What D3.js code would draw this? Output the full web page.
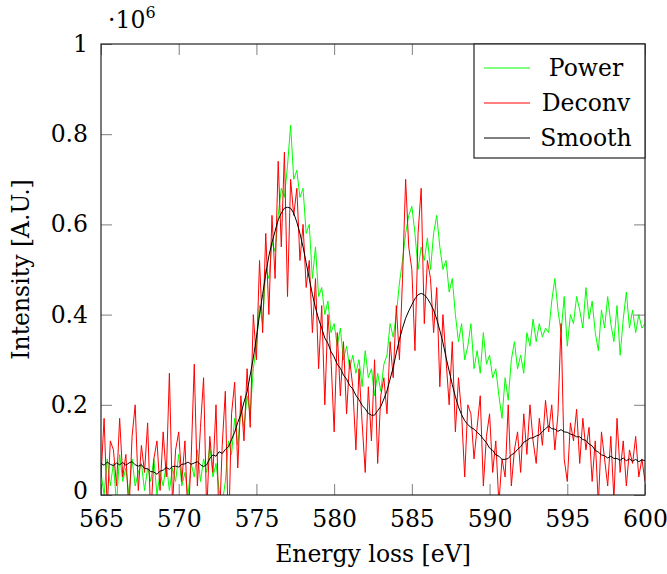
<!DOCTYPE html>
<html>
<head>
<meta charset="utf-8">
<script src="https://cdn.jsdelivr.net/npm/d3@7"></script>
<style>
  html, body { margin: 0; padding: 0; background: #fff; }
  svg { display: block; }
  svg text { font-family: "DejaVu Serif", "Liberation Serif", serif !important; fill: #000; }
</style>
</head>
<body>
<svg id="chart" width="667" height="574"></svg>
<script>
// Energy grid: starts at 565 eV, step 0.2 eV
const xStart = 565;
const xStep = 0.2;

// Values in units of 10^6
const powerValues = [
  0.05,0.00,0.08,0.02,0.07,-0.02,0.09,0.03,0.06,0.00,
  0.08,0.02,0.05,0.07,0.01,0.06,0.03,0.08,0.00,0.05,
  0.02,0.07,0.01,0.06,0.03,0.09,0.02,0.05,0.00,0.07,
  0.04,0.10,0.03,0.08,0.05,0.11,0.04,0.07,0.01,-0.02,
  0.03,0.12,0.09,0.17,0.11,0.19,0.15,0.22,0.18,0.28,
  0.33,0.42,0.38,0.50,0.48,0.56,0.54,0.62,0.68,0.66,
  0.73,0.82,0.70,0.72,0.66,0.68,0.58,0.60,0.48,0.55,
  0.44,0.46,0.40,0.43,0.36,0.38,0.33,0.37,0.30,0.33,
  0.28,0.31,0.27,0.30,0.24,0.32,0.26,0.28,0.22,0.27,
  0.23,0.29,0.31,0.38,0.35,0.40,0.47,0.52,0.58,0.62,
  0.64,0.58,0.50,0.55,0.52,0.57,0.50,0.58,0.62,0.55,
  0.50,0.52,0.45,0.48,0.40,0.34,0.38,0.30,0.33,0.38,
  0.28,0.32,0.27,0.36,0.29,0.31,0.26,0.28,0.22,0.17,
  0.26,0.21,0.30,0.34,0.28,0.31,0.27,0.36,0.33,0.39,
  0.34,0.38,0.35,0.37,0.36,0.43,0.48,0.41,0.36,0.44,
  0.33,0.40,0.38,0.44,0.41,0.37,0.46,0.39,0.43,0.36,
  0.32,0.41,0.37,0.44,0.38,0.34,0.42,0.31,0.39,0.45,
  0.37,0.41,0.36,0.40,0.37,0.38
];

const deconvValues = [
  0.04,0.17,-0.03,0.12,0.10,0.02,0.17,0.04,0.09,-0.04,
  0.13,0.20,0.01,0.11,0.05,0.16,-0.05,0.08,0.12,0.01,
  0.14,0.04,0.27,-0.02,0.10,0.14,0.03,0.12,-0.06,0.08,
  0.29,0.02,0.15,0.26,-0.04,0.13,0.05,0.20,-0.08,0.11,
  0.23,-0.10,0.18,0.25,0.06,0.22,0.12,0.28,0.15,0.40,
  0.30,0.52,0.36,0.58,0.40,0.62,0.48,0.74,0.55,0.76,
  0.44,0.70,0.62,0.68,0.52,0.60,0.46,0.52,0.36,0.48,
  0.28,0.42,0.20,0.40,0.30,0.14,0.36,0.22,0.34,0.18,
  0.30,0.24,0.10,0.28,0.16,0.05,0.24,0.12,0.30,0.07,
  0.22,0.26,0.18,0.34,0.26,0.42,0.30,0.48,0.70,0.55,
  0.50,0.32,0.58,0.68,0.38,0.52,0.48,0.36,0.46,0.24,
  0.40,0.30,0.20,0.34,0.14,0.26,0.18,0.04,0.20,0.18,
  0.08,0.15,0.22,0.02,0.13,0.18,0.05,0.12,-0.02,0.08,
  0.04,0.20,0.02,0.10,0.14,0.05,0.18,0.09,0.20,0.12,
  0.07,0.17,0.11,0.21,0.14,0.20,0.10,0.18,0.38,0.08,
  0.03,0.16,0.12,0.19,0.07,0.17,0.10,0.15,0.03,0.12,
  -0.02,0.14,0.08,0.02,0.13,-0.01,0.17,0.05,0.12,0.02,
  0.10,0.07,0.13,0.04,0.08,0.03
];

const smoothValues = [
  0.070,0.066,0.073,0.068,0.065,0.071,0.067,0.072,0.066,0.071,
  0.074,0.067,0.064,0.067,0.059,0.058,0.052,0.051,0.046,0.053,
  0.055,0.061,0.057,0.063,0.064,0.062,0.068,0.069,0.073,0.068,
  0.071,0.074,0.067,0.063,0.067,0.081,0.089,0.086,0.096,0.092,
  0.101,0.107,0.123,0.139,0.161,0.179,0.206,0.229,0.266,0.304,
  0.350,0.400,0.445,0.490,0.530,0.560,0.585,0.610,0.625,0.636,
  0.638,0.636,0.625,0.605,0.580,0.550,0.515,0.480,0.445,0.415,
  0.390,0.370,0.348,0.336,0.318,0.306,0.290,0.281,0.266,0.257,
  0.243,0.235,0.221,0.211,0.199,0.191,0.181,0.177,0.177,0.187,
  0.196,0.213,0.231,0.257,0.283,0.315,0.345,0.370,0.392,0.408,
  0.422,0.435,0.444,0.447,0.444,0.436,0.424,0.410,0.390,0.365,
  0.338,0.305,0.275,0.245,0.218,0.195,0.178,0.165,0.156,0.150,
  0.146,0.139,0.133,0.124,0.116,0.104,0.099,0.089,0.086,0.079,
  0.079,0.081,0.089,0.093,0.101,0.107,0.117,0.121,0.126,0.127,
  0.131,0.133,0.141,0.147,0.153,0.147,0.146,0.141,0.145,0.140,
  0.139,0.135,0.133,0.129,0.129,0.123,0.121,0.113,0.109,0.099,
  0.095,0.089,0.087,0.082,0.086,0.081,0.081,0.077,0.082,0.076,
  0.080,0.075,0.079,0.074,0.078,0.076
];

const seriesNames = ["Power", "Deconv", "Smooth"];
const seriesColors = ["#00ff00", "#ff0000", "#000000"];
const xTicks = [565, 570, 575, 580, 585, 590, 595, 600];
const yTicks = [0, 0.2, 0.4, 0.6, 0.8, 1];
const yTickLabels = ["0", "0.2", "0.4", "0.6", "0.8", "1"];

const FONT = "'DejaVu Serif', 'Liberation Serif', serif";
const FS = 23.5;
const svg = d3.select("#chart");
const L = 101, R = 645, T = 44, B = 495;
const x = d3.scaleLinear().domain([565, 600]).range([L, R]);
const y = d3.scaleLinear().domain([0, 1]).range([B, T]);

const allSeries = [powerValues, deconvValues, smoothValues].map(vals =>
  vals.map((v, i) => ({ e: xStart + i * xStep, v })));

svg.append("defs").append("clipPath").attr("id", "clip")
  .append("rect").attr("x", L).attr("y", T).attr("width", R - L).attr("height", B - T);

const line = d3.line().x(d => x(d.e)).y(d => y(d.v));
const g = svg.append("g").attr("clip-path", "url(#clip)");
allSeries.forEach((s, k) => {
  g.append("path").datum(s).attr("d", line)
    .attr("fill", "none").attr("stroke", seriesColors[k])
    .attr("stroke-width", 1).attr("stroke-linejoin", "round");
});

// ticks (inward on all four sides)
const tickLen = 11;
const tickColor = "#7f7f7f";
const axB = svg.append("g").attr("transform", `translate(0,${B})`)
  .call(d3.axisBottom(x).tickValues(xTicks).tickSize(-tickLen).tickPadding(15).tickFormat(d3.format("d")));
const axT = svg.append("g").attr("transform", `translate(0,${T})`)
  .call(d3.axisTop(x).tickValues(xTicks).tickSize(-tickLen).tickFormat(""));
const axL = svg.append("g").attr("transform", `translate(${L},0)`)
  .call(d3.axisLeft(y).tickValues(yTicks).tickSize(-tickLen).tickPadding(13).tickFormat((d, i) => yTickLabels[i]));
const axR = svg.append("g").attr("transform", `translate(${R},0)`)
  .call(d3.axisRight(y).tickValues(yTicks).tickSize(-tickLen).tickFormat(""));
[axB, axT, axL, axR].forEach(a => {
  a.attr("font-family", FONT).attr("font-size", FS);
  a.select(".domain").remove();
  a.selectAll(".tick line").attr("stroke", tickColor).attr("stroke-width", 1);
  a.selectAll(".tick text").attr("fill", "#000");
});
// nudge the zero label up so it clears the x tick labels
axL.selectAll(".tick text").filter(d => d === 0).attr("y", -4);

// frame
svg.append("rect").attr("x", L).attr("y", T).attr("width", R - L).attr("height", B - T)
  .attr("fill", "none").attr("stroke", "#222").attr("stroke-width", 1.2);

// axis labels
svg.append("text").attr("x", (L + R) / 2).attr("y", 562).attr("text-anchor", "middle")
  .attr("font-family", FONT).attr("font-size", FS).text("Energy loss [eV]");
svg.append("text").attr("transform", `translate(29,${(T + B) / 2}) rotate(-90)`)
  .attr("text-anchor", "middle").attr("font-family", FONT).attr("font-size", FS).text("Intensity [A.U.]");

// multiplier
const mult = svg.append("text").attr("x", 108).attr("y", 28).attr("font-family", FONT).attr("font-size", FS);
mult.append("tspan").text("·10");
mult.append("tspan").attr("dy", -10).attr("font-size", 16).text("6");

// legend
const lg = svg.append("g");
lg.append("rect").attr("x", 474).attr("y", T).attr("width", R - 474).attr("height", 114)
  .attr("fill", "#fff").attr("stroke", "#222").attr("stroke-width", 1.2);
seriesNames.forEach((n, k) => {
  const cy = 68 + k * 35;
  lg.append("line").attr("x1", 484).attr("x2", 530).attr("y1", cy).attr("y2", cy)
    .attr("stroke", seriesColors[k]).attr("stroke-width", 1);
  lg.append("text").attr("x", 586).attr("y", cy + 8).attr("text-anchor", "middle")
    .attr("font-family", FONT).attr("font-size", FS).text(n);
});
</script>
</body>
</html>
